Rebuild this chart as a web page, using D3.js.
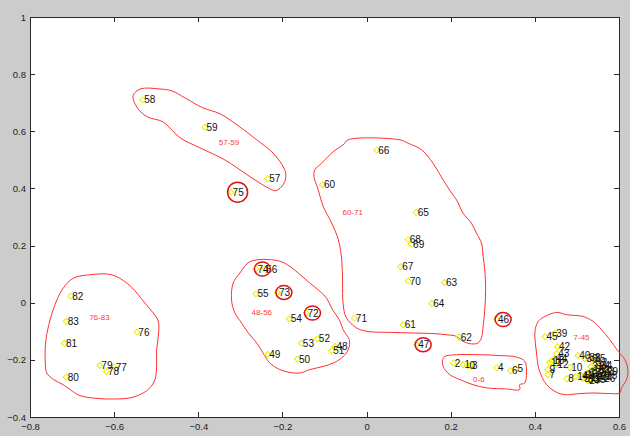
<!DOCTYPE html>
<html>
<head>
<meta charset="utf-8">
<script src="https://cdn.jsdelivr.net/npm/d3@7"></script>
<style>
body { margin: 0; background: #cccccc; }
svg { display: block; }
text { font-family: "Liberation Sans", Arial, sans-serif; }
</style>
</head>
<body>
<script>
// point ids and their 2-D positions
var pointIds = ['0','1','2','3','4','5','6','7','8','9','10','11','12','13','14','15','16','17','18','19',
  '20','21','22','23','24','25','26','27','28','29','30','31','32','33','34','35','36','37','38','39',
  '40','41','42','43','44','45','46','47','48','49','50','51','52','53','54','55','56','57','58','59',
  '60','61','62','63','64','65','66','67','68','69','70','71','72','73','74','75','76','77','78','79',
  '80','81','82','83'];
var pointX = [0.241,0.229,0.206,0.247,0.309,0.355,0.342,0.431,0.476,0.431,0.483,0.435,0.450,0.440,0.497,0.519,0.530,0.526,0.535,0.540,
  0.549,0.545,0.554,0.559,0.549,0.538,0.561,0.526,0.566,0.568,0.547,0.533,0.542,0.523,0.554,0.538,0.519,0.514,0.526,0.447,
  0.502,0.509,0.454,0.452,0.447,0.424,0.309,0.119,-0.075,-0.235,-0.164,-0.083,-0.117,-0.155,-0.184,-0.263,-0.242,-0.235,-0.532,-0.384,
  -0.105,0.087,0.220,0.185,0.155,0.118,0.024,0.081,0.099,0.107,0.099,-0.029,-0.144,-0.212,-0.263,-0.322,-0.546,-0.600,-0.618,-0.634,
  -0.714,-0.718,-0.703,-0.714];
var pointY = [-0.220,-0.217,-0.211,-0.220,-0.228,-0.231,-0.238,-0.252,-0.266,-0.234,-0.227,-0.210,-0.217,-0.203,-0.259,-0.252,-0.262,-0.245,-0.238,-0.255,
  -0.248,-0.266,-0.259,-0.241,-0.220,-0.269,-0.266,-0.273,-0.255,-0.241,-0.234,-0.224,-0.210,-0.269,-0.220,-0.196,-0.196,-0.266,-0.192,-0.108,
  -0.185,-0.255,-0.154,-0.178,-0.196,-0.119,-0.059,-0.147,-0.153,-0.181,-0.197,-0.167,-0.126,-0.142,-0.056,0.031,0.118,0.434,0.710,0.614,
  0.413,-0.077,-0.120,0.071,-0.003,0.316,0.534,0.126,0.220,0.205,0.076,-0.054,-0.036,0.036,0.118,0.387,-0.103,-0.225,-0.241,-0.220,
  -0.260,-0.142,0.023,-0.066];

// outliers marked with a ring
var ringed = ['46','47','72','73','74','75'];

// cluster names, their label positions and outlines
var clusterNames = ['57-59','60-71','76-83','48-56','0-6','7-45'];
var clusterLabelX = [-0.327,-0.033,-0.635,-0.249,0.267,0.511];
var clusterLabelY = [0.563,0.318,-0.051,-0.033,-0.266,-0.121];
var outlines = [
  [[-0.555,0.724],[-0.538,0.748],[-0.491,0.748],[-0.462,0.741],[-0.432,0.717],[-0.389,0.682],[-0.348,0.661],[-0.301,0.615],
   [-0.261,0.570],[-0.225,0.528],[-0.201,0.483],[-0.192,0.451],[-0.197,0.416],[-0.216,0.392],[-0.239,0.406],[-0.284,0.448],
   [-0.337,0.500],[-0.396,0.542],[-0.443,0.577],[-0.484,0.633],[-0.520,0.650],[-0.543,0.678]],
  [[-0.044,0.570],[0.079,0.570],[0.099,0.558],[0.131,0.535],[0.158,0.488],[0.182,0.430],[0.202,0.384],[0.214,0.360],
   [0.229,0.314],[0.249,0.279],[0.261,0.244],[0.273,0.209],[0.277,0.162],[0.281,0.115],[0.283,0.045],[0.281,-0.024],
   [0.277,-0.083],[0.273,-0.123],[0.265,-0.141],[0.249,-0.144],[0.229,-0.135],[0.214,-0.118],[0.190,-0.112],[0.158,-0.108],
   [0.111,-0.106],[0.063,-0.104],[0.000,-0.100],[-0.024,-0.088],[-0.048,-0.053],[-0.056,-0.001],[-0.057,0.069],[-0.059,0.150],
   [-0.067,0.220],[-0.083,0.279],[-0.103,0.337],[-0.115,0.395],[-0.125,0.442],[-0.123,0.465],[-0.107,0.488],[-0.079,0.529],[-0.056,0.552]],
  [[-0.697,0.086],[-0.657,0.098],[-0.606,0.098],[-0.570,0.069],[-0.546,0.034],[-0.527,-0.001],[-0.507,-0.036],[-0.495,-0.065],
   [-0.495,-0.118],[-0.499,-0.164],[-0.499,-0.223],[-0.503,-0.269],[-0.515,-0.298],[-0.531,-0.316],[-0.562,-0.333],[-0.602,-0.337],
   [-0.641,-0.335],[-0.681,-0.325],[-0.705,-0.304],[-0.721,-0.287],[-0.744,-0.269],[-0.760,-0.246],[-0.764,-0.199],[-0.762,-0.129],
   [-0.752,-0.059],[-0.736,0.010],[-0.721,0.051]],
  [[-0.277,0.144],[-0.210,0.147],[-0.182,0.127],[-0.158,0.098],[-0.135,0.069],[-0.111,0.040],[-0.095,0.016],[-0.083,-0.019],
   [-0.063,-0.065],[-0.056,-0.094],[-0.048,-0.112],[-0.041,-0.129],[-0.041,-0.153],[-0.048,-0.176],[-0.059,-0.193],[-0.079,-0.211],
   [-0.103,-0.223],[-0.135,-0.234],[-0.158,-0.246],[-0.182,-0.244],[-0.206,-0.234],[-0.230,-0.211],[-0.246,-0.176],[-0.261,-0.141],
   [-0.281,-0.106],[-0.297,-0.071],[-0.313,-0.036],[-0.321,0.010],[-0.317,0.069],[-0.301,0.104]],
  [[0.186,-0.188],[0.214,-0.182],[0.269,-0.182],[0.317,-0.185],[0.356,-0.190],[0.376,-0.205],[0.380,-0.246],[0.376,-0.281],
   [0.364,-0.287],[0.364,-0.304],[0.333,-0.302],[0.285,-0.298],[0.253,-0.287],[0.222,-0.269],[0.198,-0.252],[0.182,-0.223],[0.181,-0.199]],
  [[0.412,-0.059],[0.451,-0.034],[0.475,-0.042],[0.514,-0.048],[0.538,-0.065],[0.558,-0.094],[0.578,-0.129],[0.598,-0.170],
   [0.614,-0.199],[0.621,-0.234],[0.618,-0.269],[0.606,-0.298],[0.602,-0.316],[0.578,-0.318],[0.538,-0.316],[0.507,-0.318],
   [0.475,-0.322],[0.455,-0.316],[0.428,-0.287],[0.410,-0.234],[0.404,-0.176],[0.400,-0.106],[0.404,-0.077]]
];

var xTicks = [-0.8,-0.6,-0.4,-0.2,0,0.2,0.4,0.6];
var yTicks = [-0.4,-0.2,0,0.2,0.4,0.6,0.8,1];

var margin = {top: 17, right: 11, bottom: 19, left: 30};
var W = 630, H = 436;
var width = W - margin.left - margin.right;
var height = H - margin.top - margin.bottom;

var svg = d3.select('body').append('svg')
    .attr('width', W)
    .attr('height', H);

var g = svg.append('g')
    .attr('transform', 'translate(' + margin.left + ',' + margin.top + ')');

var xScale = d3.scaleLinear().domain([-0.8, 0.6]).range([0, width]);
var yScale = d3.scaleLinear().domain([-0.4, 1]).range([height, 0]);

g.append('rect')
    .attr('width', width)
    .attr('height', height)
    .style('fill', 'white');

var fmt = function(d){ return d === 0 ? '0' : d3.format('.1f')(d).replace(/\.0$/, ''); };

// axes, ticks inside like matlab
var xAxis = d3.axisBottom(xScale).tickValues(xTicks).tickSizeInner(-5).tickSizeOuter(0).tickPadding(6).tickFormat(fmt);
var yAxis = d3.axisLeft(yScale).tickValues(yTicks).tickSizeInner(-5).tickSizeOuter(0).tickPadding(4).tickFormat(fmt);
var xTop = d3.axisTop(xScale).tickValues(xTicks).tickSizeInner(-5).tickSizeOuter(0).tickFormat('');
var yRight = d3.axisRight(yScale).tickValues(yTicks).tickSizeInner(-5).tickSizeOuter(0).tickFormat('');

g.append('g').attr('class', 'axis').attr('transform', 'translate(0,' + height + ')').call(xAxis);
g.append('g').attr('class', 'axis').call(yAxis);
g.append('g').attr('class', 'axis').call(xTop);
g.append('g').attr('class', 'axis').attr('transform', 'translate(' + width + ',0)').call(yRight);

g.selectAll('.axis path, .axis line').style('stroke', '#2a2a2a').style('stroke-width', 1).attr('shape-rendering', 'crispEdges');
g.selectAll('.axis text').style('font-size', '9.5px').style('fill', '#222')
    .style('font-family', '"Liberation Sans", Arial, sans-serif');

// cluster outlines
var line = d3.line()
    .x(function(d){ return xScale(d[0]); })
    .y(function(d){ return yScale(d[1]); })
    .curve(d3.curveCatmullRomClosed.alpha(0.5));

g.selectAll('.outline')
    .data(outlines)
    .enter().append('path')
    .attr('class', 'outline')
    .attr('d', line)
    .style('fill', 'none')
    .style('stroke', '#ff3030')
    .style('stroke-width', 1);

// points
var pts = pointIds.map(function(id, i){ return {id: id, x: pointX[i], y: pointY[i]}; });

g.selectAll('.mark')
    .data(pts)
    .enter().append('path')
    .attr('class', 'mark')
    .attr('d', d3.symbol().type(d3.symbolSquare).size(18))
    .attr('transform', function(d){ return 'translate(' + xScale(d.x) + ',' + yScale(d.y) + ') rotate(45)'; })
    .style('fill', 'none')
    .style('stroke', '#eded00')
    .style('stroke-width', 1);

g.selectAll('.lbl')
    .data(pts)
    .enter().append('text')
    .attr('class', 'lbl')
    .attr('x', function(d){ return xScale(d.x) + 1.5; })
    .attr('y', function(d){ return yScale(d.y); })
    .attr('dy', '0.36em')
    .style('font-size', '10px')
    .style('fill', '#111')
    .text(function(d){ return d.id; });

// rings round the outliers
g.selectAll('.ring')
    .data(pts.filter(function(d){ return ringed.indexOf(d.id) !== -1; }))
    .enter().append('ellipse')
    .attr('class', 'ring')
    .attr('cx', function(d){ return xScale(d.x) + 6.5; })
    .attr('cy', function(d){ return yScale(d.y); })
    .attr('rx', function(d){ return d.id === '75' ? 10 : 8; })
    .attr('ry', function(d){ return d.id === '75' ? 10 : 7; })
    .style('fill', 'none')
    .style('stroke', '#e01010')
    .style('stroke-width', 1.5);

g.selectAll('.cname')
    .data(clusterNames)
    .enter().append('text')
    .attr('class', 'cname')
    .attr('x', function(d, i){ return xScale(clusterLabelX[i]); })
    .attr('y', function(d, i){ return yScale(clusterLabelY[i]); })
    .attr('dy', '0.35em')
    .attr('text-anchor', 'middle')
    .style('font-size', '8px')
    .style('fill', '#ff3a3a')
    .text(function(d){ return d; });
</script>
</body>
</html>
